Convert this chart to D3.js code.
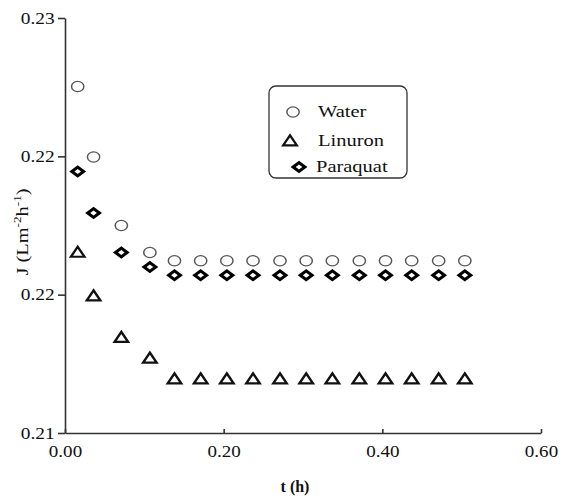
<!DOCTYPE html>
<html lang="en">
  <head>
    <meta charset="utf-8">
    <title>Flux vs time</title>
    <style type="text/css">
      body { margin: 0; background: #fff; }
      svg { display: block; }
      text { font-family: "Liberation Serif", "DejaVu Serif", serif; fill: #111; }
    </style>
  </head>
  <body>
    <script type="text/javascript" src="https://d3js.org/d3.v7.min.js"></script>
    <script type="text/javascript">
    // ===================================
    // DATA
    // ===================================
      var times = [0.016, 0.036, 0.071, 0.107, 0.138, 0.171, 0.204, 0.237,
                   0.271, 0.304, 0.337, 0.371, 0.404, 0.437, 0.471, 0.504];
      var water = [0.2267, 0.2233, 0.2200, 0.2187, 0.2183, 0.2183, 0.2183, 0.2183,
                   0.2183, 0.2183, 0.2183, 0.2183, 0.2183, 0.2183, 0.2183, 0.2183];
      var linuron = [0.2187, 0.2166, 0.2146, 0.2136, 0.2126, 0.2126, 0.2126, 0.2126,
                     0.2126, 0.2126, 0.2126, 0.2126, 0.2126, 0.2126, 0.2126, 0.2126];
      var paraquat = [0.2226, 0.2206, 0.2187, 0.2180, 0.2176, 0.2176, 0.2176, 0.2176,
                      0.2176, 0.2176, 0.2176, 0.2176, 0.2176, 0.2176, 0.2176, 0.2176];
      var seriesNames = ["Water", "Linuron", "Paraquat"];
      var xTicks = [0, 0.2, 0.4, 0.6];
      var yTicks = [0.21, 0.21 + 0.02 / 3, 0.21 + 0.04 / 3, 0.23];

    // ===================================
    // SETUP
    // ===================================
      var w = 563, h = 498;
      var margin = {top: 18, right: 22, bottom: 65, left: 65};

      var svg = d3.select("body").append("svg")
        .attr("width", w)
        .attr("height", h);

      var x = d3.scaleLinear().domain([0, 0.6]).range([margin.left, w - margin.right]);
      var y = d3.scaleLinear().domain([0.21, 0.23]).range([h - margin.bottom, margin.top]);

      // marker drawing
      function marker(sel, name) {
        if (name === "Water") {
          sel.append("path")
            .attr("d", d3.symbol(d3.symbolCircle, 95)())
            .attr("transform", "scale(1.12,0.92)")
            .attr("fill", "#fff")
            .attr("stroke", "#555")
            .attr("stroke-width", 1.3);
        } else if (name === "Linuron") {
          sel.append("path")
            .attr("d", d3.symbol(d3.symbolTriangle, 64)())
            .attr("transform", "translate(0,1) scale(1.12,0.95)")
            .attr("fill", "#fff")
            .attr("stroke", "#111")
            .attr("stroke-width", 2.2);
        } else {
          sel.append("path")
            .attr("d", d3.symbol(d3.symbolSquare, 48)())
            .attr("transform", "scale(1.2,0.88) rotate(45)")
            .attr("fill", "#fff")
            .attr("stroke", "#000")
            .attr("stroke-width", 3);
        }
      }

    // ===================================
    // AXES
    // ===================================
      var xAxis = svg.append("g")
        .attr("transform", "translate(0," + y.range()[0] + ")")
        .call(d3.axisBottom(x).tickValues(xTicks).tickFormat(d3.format(".2f"))
          .tickSizeInner(-4).tickSizeOuter(0).tickPadding(12));
      xAxis.selectAll("text")
        .attr("font-size", 17)
        .attr("fill", "#111")
        .attr("transform", "scale(1.12,1)");

      var yAxis = svg.append("g")
        .attr("transform", "translate(" + x.range()[0] + ",0)")
        .call(d3.axisLeft(y).tickValues(yTicks).tickFormat(d3.format(".2f"))
          .tickSizeInner(7).tickSizeOuter(0).tickPadding(2));
      yAxis.selectAll("text")
        .attr("font-size", 17)
        .attr("fill", "#111")
        .attr("dy", "0.3em")
        .attr("transform", "scale(1.14,1)");

      svg.selectAll(".domain, .tick line")
        .attr("stroke", "#333")
        .attr("stroke-width", 1.6);

      // axis titles
      svg.append("text")
        .attr("x", (x.range()[0] + x.range()[1]) / 2 - 8)
        .attr("y", 492)
        .attr("text-anchor", "middle")
        .attr("font-size", 16)
        .attr("font-weight", "bold")
        .text("t (h)");

      var yTitle = svg.append("text")
        .attr("transform", "translate(28,232) rotate(-90) scale(1.2,1)")
        .attr("text-anchor", "middle")
        .attr("font-size", 17);
      yTitle.append("tspan").text("J (Lm");
      yTitle.append("tspan").attr("font-size", 11).attr("dy", -7).text("-2");
      yTitle.append("tspan").attr("dy", 7).text("h");
      yTitle.append("tspan").attr("font-size", 11).attr("dy", -7).text("-1");
      yTitle.append("tspan").attr("dy", 7).text(")");

    // ===================================
    // POINTS
    // ===================================
      var allSeries = [water, linuron, paraquat];
      allSeries.forEach(function(vals, k) {
        var name = seriesNames[k];
        svg.append("g").selectAll("g")
          .data(vals)
          .enter()
          .append("g")
          .attr("transform", function(d, i) {
            return "translate(" + x(times[i]) + "," + y(d) + ")";
          })
          .each(function() { marker(d3.select(this), name); });
      });

    // ===================================
    // LEGEND
    // ===================================
      var legend = svg.append("g").attr("transform", "translate(269,86)");
      legend.append("rect")
        .attr("width", 138)
        .attr("height", 92)
        .attr("rx", 7)
        .attr("fill", "#fff")
        .attr("stroke", "#333")
        .attr("stroke-width", 1.3);

      var legendRows = [
        {name: "Water", sx: 24, sy: 26, tx: 49},
        {name: "Linuron", sx: 21, sy: 55, tx: 49},
        {name: "Paraquat", sx: 30, sy: 81, tx: 47}
      ];
      legendRows.forEach(function(r) {
        var g = legend.append("g");
        marker(g.append("g").attr("transform", "translate(" + r.sx + "," + r.sy + ")"), r.name);
        g.append("text")
          .attr("transform", "translate(" + r.tx + "," + (r.sy + 5) + ") scale(1.28,1)")
          .attr("font-size", 16)
          .text(r.name);
      });
    </script>
  </body>
</html>
